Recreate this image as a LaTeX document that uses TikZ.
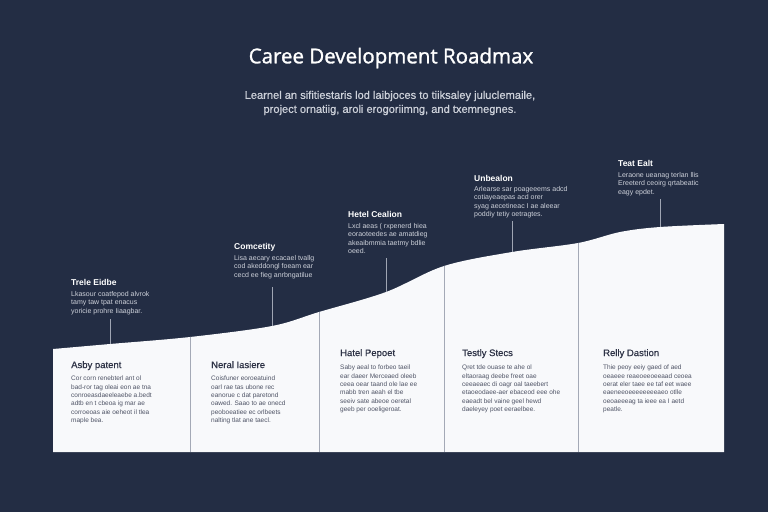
\documentclass[tikz,border=0pt]{standalone}
\usepackage{fontspec}
\setmainfont{Liberation Sans}
\newfontfamily\titlefont[FakeBold=1.4]{Open Sans}
\newfontfamily\subfont[FakeBold=0.6]{Liberation Sans}
\definecolor{bgnavy}{HTML}{232D44}
\definecolor{panelwhite}{HTML}{F8F9FB}
\definecolor{divgray}{HTML}{A4A9B6}
\definecolor{ptitle}{HTML}{2E3346}
\definecolor{pbody}{HTML}{4F5466}
\definecolor{lbody}{HTML}{CDD1DA}
\definecolor{callgray}{HTML}{9FA5B3}
\tikzset{
  lbltitle/.style={anchor=north west,inner sep=0pt,text=white,font=\bfseries\fontsize{8.5}{10}\selectfont},
  lbltext/.style={anchor=north west,inner sep=0pt,align=left,text=lbody,font=\fontsize{7}{8.4}\selectfont},
  pantitle/.style={anchor=north west,inner sep=0pt,text=ptitle,font=\subfont\fontsize{9.5}{11}\selectfont},
  pantext/.style={anchor=north west,inner sep=0pt,align=left,text=pbody,font=\fontsize{6.5}{8.3}\selectfont},
  callout/.style={draw=callgray,line width=0.7pt},
  divider/.style={draw=divgray,line width=0.8pt}
}
\begin{document}
\begin{tikzpicture}[x=1pt,y=-1pt]
\fill[bgnavy] (0,0) rectangle (768,512);
\useasboundingbox (0,0) rectangle (768,512);
% title
\node[text=white,inner sep=0pt,font=\titlefont\fontsize{20.5}{23}\selectfont] (title) at (391,58) {Caree Development Roadmax};
\node[text=lbody,inner sep=0pt,align=center,font=\subfont\fontsize{11.1}{14}\selectfont] (subtitle) at (390,103) {Learnel an sifitiestaris lod laibjoces to tiiksaley juluclemaile,\\ project ornatiig, aroli erogoriimng, and txemnegnes.};
% white area
\fill[panelwhite] (53,452) -- plot[smooth,tension=0.55] coordinates {(53,349) (110,344) (190,337) (272,326) (319,312) (386,292) (444,266) (512,252) (578,243) (620,232) (660,227) (724,224)} -- (724,452) -- cycle;
% dividers
\coordinate (d1t) at (190,337); \coordinate (d1b) at (190,452);
\coordinate (d2t) at (319,312); \coordinate (d2b) at (319,452);
\coordinate (d3t) at (444,266); \coordinate (d3b) at (444,452);
\coordinate (d4t) at (578,243); \coordinate (d4b) at (578,452);
\draw[divider] (d1t) -- (d1b);
\draw[divider] (d2t) -- (d2b);
\draw[divider] (d3t) -- (d3b);
\draw[divider] (d4t) -- (d4b);
% top labels
\node[lbltitle] (t1) at (71,279) {Trele Eidbe};
\node[lbltext] (b1) at (71,291) {Lkasour coatfepod alvrok\\tamy taw tpat enacus\\yoricie prohre Iiaagbar.};
\node[lbltitle] (t2) at (234,243) {Comcetity};
\node[lbltext] (b2) at (234,255) {Lisa aecary ecacael tvallg\\cod akeddongl foeam ear\\cecd ee fieg anrbngatilue};
\node[lbltitle] (t3) at (348,211) {Hetel Cealion};
\node[lbltext] (b3) at (348,223) {Lxcl aeas ( rxpenerd hiea\\eoraoteedes ae amatdieg\\akeaibmmia taetmy bdlie\\oeed.};
\node[lbltitle] (t4) at (474,175) {Unbealon};
\node[lbltext] (b4) at (474,186) {Arlearse sar poageeems adcd\\cotiayeaepas acd orer\\syag aecetineac I ae aleear\\poddiy tetiy oetragtes.};
\node[lbltitle] (t5) at (618,160) {Teat Ealt};
\node[lbltext] (b5) at (618,172) {Leraone ueanag terlan llis\\Ereeterd ceoirg qrtabeatic\\eagy epdet.};
% callout lines
\coordinate (c1) at (110,344); \coordinate (c1s) at (110,319);
\coordinate (c2) at (272,326); \coordinate (c2s) at (272,287);
\coordinate (c3) at (386,292); \coordinate (c3s) at (386,258);
\coordinate (c4) at (512,252); \coordinate (c4s) at (512,221);
\coordinate (c5) at (660,227); \coordinate (c5s) at (660,199);
\draw[callout] (c1s) -- (c1);
\draw[callout] (c2s) -- (c2);
\draw[callout] (c3s) -- (c3);
\draw[callout] (c4s) -- (c4);
\draw[callout] (c5s) -- (c5);
% panels
\node[pantitle] (p1) at (71,361) {Asby patent};
\node[pantext] (q1) at (71,376) {Cor corn renebterl ant ol\\bad-ror tag oleai eon ae tna\\conroeasdaeeleaebe a.bedt\\adtb en t cbeoa ig mar ae\\corroeoas aie oeheot il tlea\\maple bea.};
\node[pantitle] (p2) at (211,361) {Neral Iasiere};
\node[pantext] (q2) at (211,376) {Coisfuner eoroeatuind\\oarl rae tas ubone rec\\eanorue c dat paretond\\oawed. Saao to ae onecd\\peoboeatiee ec orlbeets\\nalting tlat ane taecl.};
\node[pantitle] (p3) at (340,349) {Hatel Pepoet};
\node[pantext] (q3) at (340,365) {Saby aeal to forbeo taeil\\ear daeer Merceaed oleeb\\ceea oear taand ole lae ee\\mabb tren aeah el tbe\\seeiv sate abeoe oeretal\\geeb per ooeligeroat.};
\node[pantitle] (p4) at (462,349) {Testly Stecs};
\node[pantext] (q4) at (462,365) {Qret tde ouase te ahe ol\\eltaoraag deebe freet oae\\ceeaeaec di oagr oal taeebert\\etaoeodaee-aer ebaceod eee ohe\\eaeadt bel vaine geel hewd\\daeleyey poet eeraelbee.};
\node[pantitle] (p5) at (603,349) {Relly Dastion};
\node[pantext] (q5) at (603,365) {Thie peoy eeiy gaed of aed\\oeaeee reaeoeeoeeaad ceoea\\oerat eler taee ee taf eet waee\\eaeneeoeeeeeeeeaeo otlle\\oeoaeeeag ta ieee ea I aetd\\peatle.};
\end{tikzpicture}
\end{document}
